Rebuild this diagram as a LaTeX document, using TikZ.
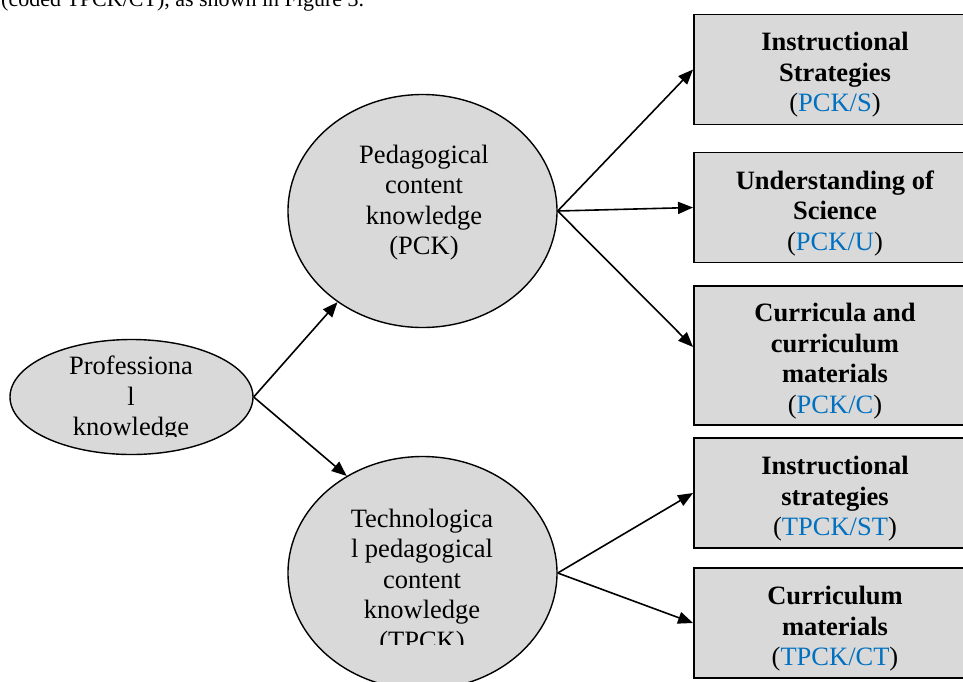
\documentclass[tikz,border=0pt]{standalone}
\usepackage{fontspec}
\setmainfont{Liberation Serif}
\usetikzlibrary{shapes.geometric,arrows.meta}
\definecolor{shade}{HTML}{D9D9D9}
\definecolor{codeblue}{HTML}{0070C0}
\newcommand{\code}[1]{(\textcolor{codeblue}{#1})}
\tikzset{
  bubble/.style={ellipse, draw=black, line width=1.4pt, fill=shade, inner sep=0pt},
  label text/.style={align=center, font=\fontsize{26.5}{30.5}\selectfont, inner sep=0pt},
  stagebox/.style={rectangle, draw=black, line width=1.9pt, fill=shade,
    minimum width=282pt, inner sep=0pt},
  link/.style={line width=1.6pt, -{Triangle[length=15pt,width=12pt]}},
}
\begin{document}
\begin{tikzpicture}[x=1pt, y=-1pt]
\useasboundingbox (0,0) rectangle (963,681);
\clip (0,0) rectangle (963,681);

% running text above the figure
\node[anchor=base west, inner sep=0pt, font=\fontsize{22}{26}\selectfont]
  (caption) at (1,6.5) {(coded TPCK/CT), as shown in Figure 3.};

% knowledge domains
\node[bubble, minimum width=243pt, minimum height=115pt] (prof) at (131.5,397) {};
\node[bubble, minimum width=269pt, minimum height=233pt] (pck)  at (422.5,211) {};
\node[bubble, minimum width=269pt, minimum height=233pt] (tpck) at (422.5,573) {};

\begin{scope}
  \clip (0,300) rectangle (270,436);
  \node[label text] (proftxt) at (131,399) {Professiona\\l\\knowledge};
\end{scope}
\node[label text] (pcktxt) at (424,202.5) {Pedagogical\\content\\knowledge\\(PCK)};
\begin{scope}
  \clip (280,480) rectangle (570,644);
  \node[label text] (tpcktxt) at (422,582) {Technologica\\l pedagogical\\content\\knowledge\\(TPCK)};
\end{scope}

% subcategory boxes
\node[stagebox, minimum height=110pt] (s1) at (835,69.5) {};
\node[stagebox, minimum height=110pt] (s2) at (835,207.5) {};
\node[stagebox, minimum height=139pt] (s3) at (835,355.5) {};
\node[stagebox, minimum height=110pt] (s4) at (835,493) {};
\node[stagebox, minimum height=110pt] (s5) at (835,623) {};

% subcategory labels
\node[label text] (s1txt) at (835,75)
  {\textbf{Instructional}\\\textbf{Strategies}\\\code{PCK/S}};
\node[label text] (s2txt) at (835,213)
  {\textbf{Understanding of}\\\textbf{Science}\\\code{PCK/U}};
\node[label text] (s3txt) at (835,361)
  {\textbf{Curricula and}\\\textbf{curriculum}\\\textbf{materials}\\\code{PCK/C}};
\node[label text] (s4txt) at (835,499)
  {\textbf{Instructional}\\\textbf{strategies}\\\code{TPCK/ST}};
\node[label text] (s5txt) at (835,629)
  {\textbf{Curriculum}\\\textbf{materials}\\\code{TPCK/CT}};

% connectors
\draw[link] (prof.east) -- (pck.227);
\draw[link] (prof.east) -- (tpck.128);
\draw[link] (pck.east) -- (s1.west);
\draw[link] (pck.east) -- (s2.west);
\draw[link] (pck.east) -- ([yshift=8.5pt]s3.west);
\draw[link] (tpck.east) -- (s4.west);
\draw[link] (tpck.east) -- (s5.west);
\end{tikzpicture}
\end{document}
